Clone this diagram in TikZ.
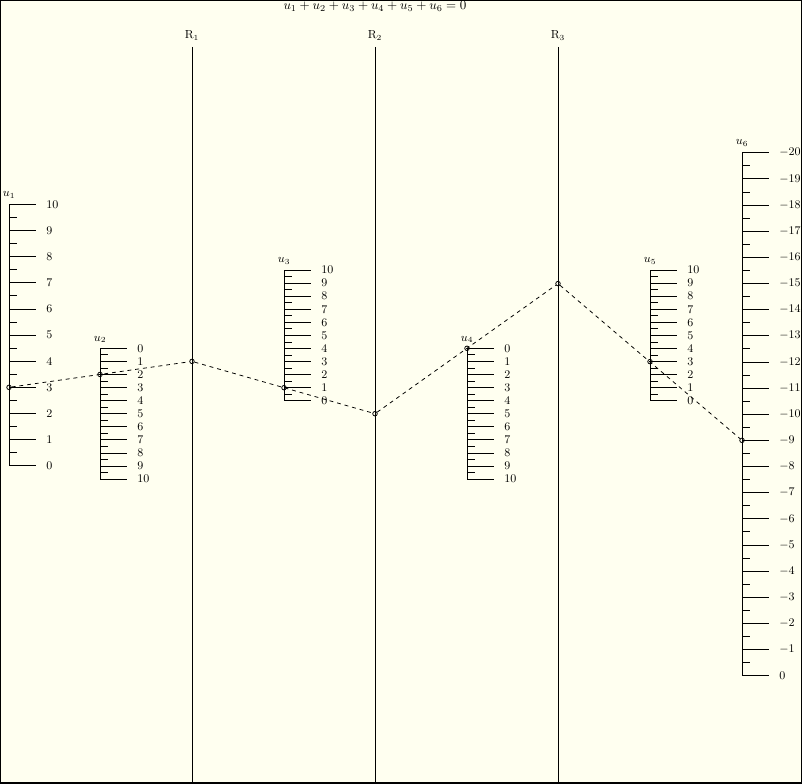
\documentclass[tikz,border=0pt]{standalone}
\definecolor{bgivory}{RGB}{255,255,240}
\begin{document}
\begin{tikzpicture}[x=0.76923pt,y=0.76923pt,
  axisline/.style={line width=0.6pt},
  tickline/.style={line width=0.6pt},
  ticklabel/.style={anchor=west, inner sep=0pt, font=\small},
  scalename/.style={anchor=base, inner sep=0pt, font=\small},
  isoline/.style={dashed, line width=0.6pt},
  pointmark/.style={circle, draw, line width=0.6pt, inner sep=0pt, minimum size=3.5pt},
  reflabel/.style={anchor=base, inner sep=0pt, font=\small}]
\useasboundingbox (0,0) rectangle (802,-783);
\fill[bgivory] (0,0) rectangle (802,-783);
\draw[line width=2.2pt] (0,0) rectangle (802,-783);

% title
\node[anchor=base, inner sep=0pt] (title) at (375,-10) {$u_1+u_2+u_3+u_4+u_5+u_6=0$};

% reference lines
\foreach \k/\xx in {1/192,2/375,3/558}{
  \node[reflabel] (R\k) at (\xx,-39) {$\mathrm{R}_\k$};
  \coordinate (R\k top) at (\xx,-47);
  \coordinate (R\k bot) at (\xx,-783);
  \draw[axisline] (R\k top) -- (R\k bot);
}

% u1 scale
\draw[axisline] (9,-465.8) -- (9,-204.3);
\foreach \i in {0,...,10}{
  \draw[tickline] (9,{-465.8+26.15*\i}) -- ++(27,0);
  \node[ticklabel] (ua\i) at (46,{-465.8+26.15*\i}) {\i};
}
\foreach \i in {0,...,9}{
  \draw[tickline] (9,{-465.8+26.15*(\i+0.5)}) -- ++(8,0);
}
\node[scalename] (u1name) at (9,-197) {$u_1$};

% u2 scale
\draw[axisline] (100,-348.3) -- (100,-479.05);
\foreach \i in {0,...,10}{
  \draw[tickline] (100,{-348.3-13.075*\i}) -- ++(27,0);
  \node[ticklabel] (ub\i) at (137,{-348.3-13.075*\i}) {\i};
}
\foreach \i in {0,...,9}{
  \draw[tickline] (100,{-348.3-13.075*(\i+0.5)}) -- ++(8,0);
}
\node[scalename] (u2name) at (100,-341) {$u_2$};

% u3 scale
\draw[axisline] (284,-400.8) -- (284,-270.05);
\foreach \i in {0,...,10}{
  \draw[tickline] (284,{-400.8+13.075*\i}) -- ++(27,0);
  \node[ticklabel] (uc\i) at (321,{-400.8+13.075*\i}) {\i};
}
\foreach \i in {0,...,9}{
  \draw[tickline] (284,{-400.8+13.075*(\i+0.5)}) -- ++(8,0);
}
\node[scalename] (u3name) at (284,-263) {$u_3$};

% u4 scale
\draw[axisline] (467,-348.3) -- (467,-479.05);
\foreach \i in {0,...,10}{
  \draw[tickline] (467,{-348.3-13.075*\i}) -- ++(27,0);
  \node[ticklabel] (ud\i) at (504,{-348.3-13.075*\i}) {\i};
}
\foreach \i in {0,...,9}{
  \draw[tickline] (467,{-348.3-13.075*(\i+0.5)}) -- ++(8,0);
}
\node[scalename] (u4name) at (467,-341) {$u_4$};

% u5 scale
\draw[axisline] (650,-400.8) -- (650,-270.05);
\foreach \i in {0,...,10}{
  \draw[tickline] (650,{-400.8+13.075*\i}) -- ++(27,0);
  \node[ticklabel] (ue\i) at (687,{-400.8+13.075*\i}) {\i};
}
\foreach \i in {0,...,9}{
  \draw[tickline] (650,{-400.8+13.075*(\i+0.5)}) -- ++(8,0);
}
\node[scalename] (u5name) at (650,-263) {$u_5$};

% u6 scale
\draw[axisline] (742,-675.7) -- (742,-152.7);
\foreach \i in {0,...,20}{
  \draw[tickline] (742,{-675.7+26.15*\i}) -- ++(27,0);
  \node[ticklabel] (uf\i) at (779,{-675.7+26.15*\i}) {\ifnum\i=0 0\else$-\i$\fi};
}
\foreach \i in {0,...,19}{
  \draw[tickline] (742,{-675.7+26.15*(\i+0.5)}) -- ++(8,0);
}
\node[scalename] (u6name) at (742,-145) {$u_6$};

% isopleth points
\node[pointmark] (p1) at (9,-387.35) {};
\node[pointmark] (p2) at (100,-374.45) {};
\node[pointmark] (r1) at (192,-361.4) {};
\node[pointmark] (p3) at (284,-387.7) {};
\node[pointmark] (r2) at (375,-413.7) {};
\node[pointmark] (p4) at (467,-348.3) {};
\node[pointmark] (r3) at (558,-283.6) {};
\node[pointmark] (p5) at (650,-361.6) {};
\node[pointmark] (p6) at (742,-440.35) {};

\draw[isoline] (p1) -- (r1) -- (r2) -- (r3) -- (p6);
\end{tikzpicture}
\end{document}
